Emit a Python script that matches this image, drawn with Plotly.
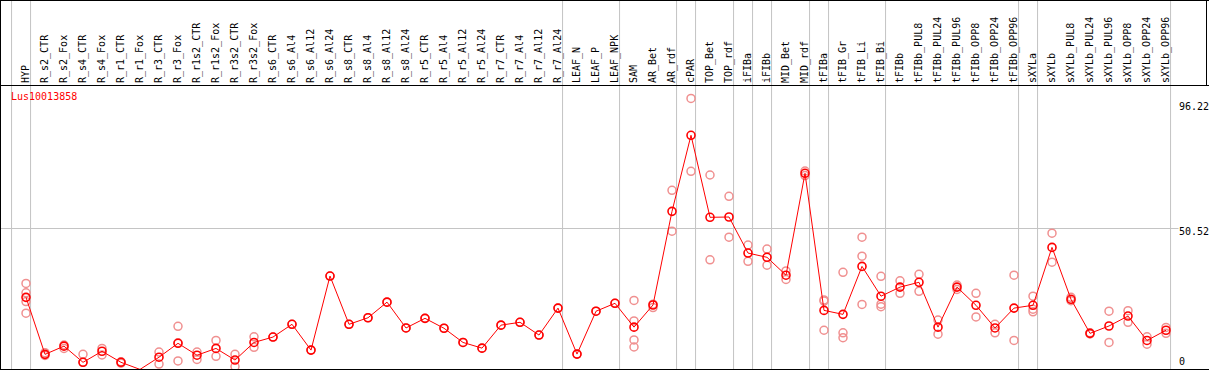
import plotly.graph_objects as go

categories = ["HYP", "R_s2_CTR", "R_s2_Fox", "R_s4_CTR", "R_s4_Fox", "R_r1_CTR", "R_r1_Fox",
              "R_r3_CTR", "R_r3_Fox", "R_r1s2_CTR", "R_r1s2_Fox", "R_r3s2_CTR", "R_r3s2_Fox",
              "R_s6_CTR", "R_s6_Al4", "R_s6_Al12", "R_s6_Al24", "R_s8_CTR", "R_s8_Al4", "R_s8_Al12",
              "R_s8_Al24", "R_r5_CTR", "R_r5_Al4", "R_r5_Al12", "R_r5_Al24", "R_r7_CTR", "R_r7_Al4",
              "R_r7_Al12", "R_r7_Al24", "LEAF_N", "LEAF_P", "LEAF_NPK", "SAM", "AR_Bet", "AR_rdf",
              "cPAR", "TOP_Bet", "TOP_rdf", "iFIBa", "iFIBb", "MID_Bet", "MID_rdf", "tFIBa",
              "tFIB_Gr", "tFIB_Li", "tFIB_Bi", "tFIBb", "tFIBb_PUL8", "tFIBb_PUL24", "tFIBb_PUL96",
              "tFIBb_OPP8", "tFIBb_OPP24", "tFIBb_OPP96", "sXYLa", "sXYLb", "sXYLb_PUL8",
              "sXYLb_PUL24", "sXYLb_PUL96", "sXYLb_OPP8", "sXYLb_OPP24", "sXYLb_OPP96"]

mean_values = [26.1, 6.0, 8.9, 3.2, 7.1, 3.2, 0.7, 5.0, 9.9, 5.7, 8.1, 4.0, 10.2,
               12.1, 16.6, 7.5, 33.6, 16.6, 18.9, 24.4, 15.3, 18.7, 15.2, 10.2, 8.2,
               16.3, 17.3, 12.8, 22.3, 6.1, 21.2, 24.0, 15.6, 23.4, 56.4, 83.2, 54.3,
               54.4, 41.7, 40.2, 33.9, 69.8, 21.5, 20.1, 37.0, 26.5, 29.7, 31.4, 15.6,
               29.7, 23.3, 15.3, 22.3, 23.3, 43.7, 25.4, 13.4, 16.0, 19.5, 10.9, 14.5]

replicates = [[31.0, 27.7, 24.6, 20.5], [6.6, 5.6, 5.9], [9.3, 8.1], [6.0, 0.5, 3.2], [8.1, 5.8],
              [3.4, 2.9], [0.7, 0.6], [6.8, 2.6], [15.9, 10.1, 3.7], [6.8, 4.2], [10.9, 5.3],
              [6.0, 1.7], [12.2, 8.5],
              [12.1], [16.6], [7.5], [33.6], [16.6], [18.9], [24.4], [15.3], [18.7], [15.2],
              [10.2], [8.2], [16.3], [17.3], [12.8], [22.3], [6.1], [21.2], [24.0],
              [25.0, 17.8, 11.1, 8.6], [23.7, 22.5], [63.8, 49.4], [96.2, 70.5], [69.2, 39.3],
              [61.7, 47.3], [44.5, 38.8], [43.1, 37.4], [35.4, 32.4], [70.6, 69.0],
              [25.2, 24.8, 14.5], [34.9, 13.6, 11.9], [47.3, 40.6, 23.6], [33.5, 23.7, 22.8],
              [31.9, 27.5], [34.2, 28.2], [18.1, 13.1], [30.4, 28.9], [27.5, 19.2], [16.6, 13.6],
              [33.9, 10.9], [26.5, 21.9, 21.0], [48.7, 38.5], [26.1, 24.9], [13.6, 13.2],
              [21.2, 10.2], [21.4, 17.3], [12.2, 9.6], [15.5, 13.4]]

# index of the last category in each sample group (group separators)
group_ends = [-1, 0, 28, 31, 34, 35, 37, 38, 39, 41, 42, 45, 52, 53, 60]

gene_name = "Lus10013858"
axis_labels = [0, 50.52, 96.22]
grid_values = [50.52]

W, H = 1209, 370
FONT = "DejaVu Sans Mono"
idx = list(range(len(categories)))

# pixel geometry
x0_px, step_px = 26, 19
plot_left, plot_right = 1, 1206
plot_top, plot_bottom = 86, 369
v0_px, v_scale = 371.4, 2.838

x_range = [(plot_left - x0_px) / step_px, (plot_right - x0_px) / step_px]
y_range = [(v0_px - plot_bottom) / v_scale, (v0_px - plot_top) / v_scale]

rep_x, rep_y = [], []
for i, reps in enumerate(replicates):
    for r in reps:
        rep_x.append(i)
        rep_y.append(r)

fig = go.Figure()
fig.add_trace(go.Scatter(
    x=rep_x, y=rep_y, mode="markers",
    marker=dict(symbol="circle-open", size=8, color="#f09090", line=dict(width=1.5, color="#f09090")),
    showlegend=False, cliponaxis=False))
fig.add_trace(go.Scatter(
    x=idx, y=mean_values, mode="lines+markers",
    line=dict(color="#ff0000", width=1),
    marker=dict(symbol="circle-open", size=8, color="#ff0000", line=dict(width=1.6, color="#ff0000")),
    showlegend=False, cliponaxis=False))

shapes = []
for g in group_ends:
    shapes.append(dict(type="line", xref="x", yref="paper", x0=g + 0.24, x1=g + 0.24, y0=0, y1=1,
                       line=dict(color="#c4c4c4", width=1), layer="below"))
blk = dict(color="black", width=1)
shapes += [
    dict(type="line", xref="paper", yref="paper", x0=0, x1=1, y0=1 - 0.5 / H, y1=1 - 0.5 / H, line=blk),
    dict(type="line", xref="paper", yref="paper", x0=0, x1=1, y0=1 - 85.5 / H, y1=1 - 85.5 / H, line=blk),
    dict(type="line", xref="paper", yref="paper", x0=0, x1=1, y0=1 - 369.5 / H, y1=1 - 369.5 / H, line=blk),
    dict(type="line", xref="paper", yref="paper", x0=0.5 / W, x1=0.5 / W, y0=0, y1=1, line=blk),
    dict(type="line", xref="paper", yref="paper", x0=1206.5 / W, x1=1206.5 / W, y0=1 - 85.5 / H, y1=1, line=blk),
]

# label pixel offset from the value's position (labels sit just below their value; 0 is kept inside)
label_offset_px = {0: -9.7, 50.52: 3.7, 96.22: 8.4}
annotations = []
for v in axis_labels:
    py = v0_px - v * v_scale + label_offset_px[v]
    annotations.append(dict(x=1178 / W, xref="paper", y=1 - py / H, yref="paper", text=str(v),
                            showarrow=False, xanchor="left", yanchor="middle",
                            font=dict(family=FONT, size=10, color="black"), bgcolor="white",
                            borderpad=0))
annotations.append(dict(x=9 / W, xref="paper", y=1 - 96.7 / H, yref="paper", text=gene_name,
                        showarrow=False, xanchor="left", yanchor="middle",
                        font=dict(family=FONT, size=10, color="#ff0000")))

fig.update_layout(
    width=W, height=H, margin=dict(l=0, r=0, t=0, b=0),
    paper_bgcolor="white", plot_bgcolor="white",
    xaxis=dict(domain=[plot_left / W, plot_right / W], range=x_range, side="top",
               tickmode="array", tickvals=idx, ticktext=categories, tickangle=-90,
               tickfont=dict(family=FONT, size=10, color="black"), ticks="",
               showgrid=False, zeroline=False, showline=False, ticklabelstandoff=2),
    yaxis=dict(domain=[1 - plot_bottom / H, 1 - plot_top / H], range=y_range,
               tickmode="array", tickvals=grid_values, showticklabels=False,
               showgrid=True, gridcolor="#c4c4c4", gridwidth=1, zeroline=False, showline=False),
    shapes=shapes, annotations=annotations,
)

fig.write_html("out.html", config={"displayModeBar": False},
               post_script="document.body.style.margin='0px';document.body.style.overflow='hidden';")
